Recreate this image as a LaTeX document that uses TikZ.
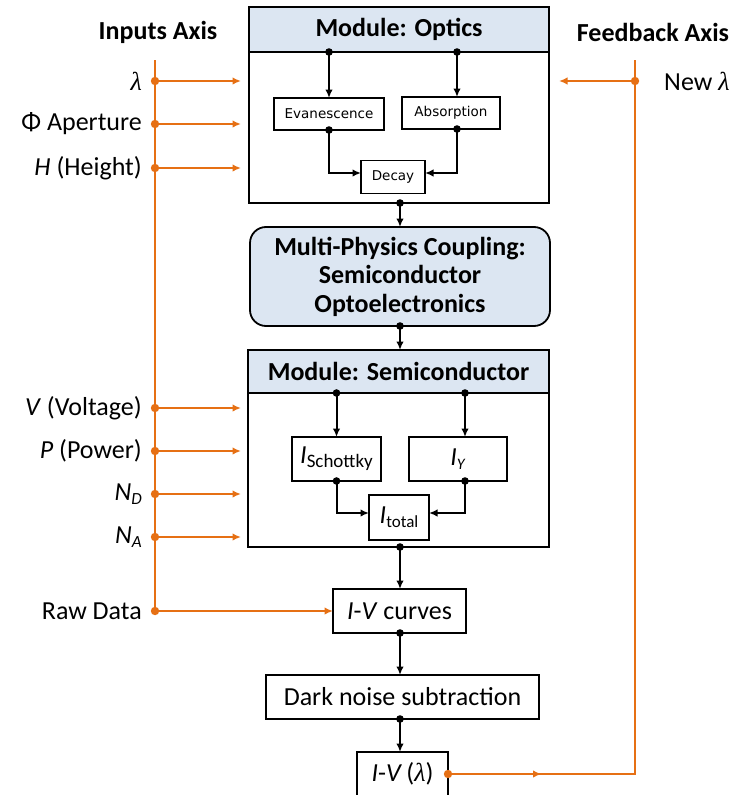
\documentclass[tikz,border=0pt]{standalone}
\usepackage{fontspec}
\setmainfont{Carlito}
\newfontfamily\smallfont{DejaVu Sans}
\newfontfamily\grkfont{Liberation Serif}
\usetikzlibrary{arrows.meta,calc}
\definecolor{hdr}{RGB}{220,230,242}
\definecolor{org}{RGB}{230,112,20}
\newcommand{\lsub}[2]{\raisebox{-0.35ex}{\fontsize{#1}{#1}\selectfont #2}}
\newcommand{\lam}{{\grkfont\itshape λ}}
\newcommand{\blackdot}[1]{\fill #1 circle (3.8);}
\newcommand{\orgdot}[1]{\fill[org] #1 circle (4.2);}
\begin{document}
\begin{tikzpicture}[x=1pt,y=-1pt,
  font=\fontsize{26}{28}\selectfont,
  box/.style={draw,line width=1.8pt,inner sep=0pt,outer sep=0pt,align=center},
  hbox/.style={box,fill=hdr,font=\fontsize{26}{28}\selectfont\bfseries},
  sbox/.style={box,font=\smallfont\fontsize{13.5}{15}\selectfont},
  blk/.style={line width=2pt,-{Latex[length=8.5pt,width=7.5pt]}},
  oln/.style={draw=org,line width=1.9pt},
  oarr/.style={oln,-{Latex[length=8.5pt,width=7.5pt]}},
  lbl/.style={anchor=east,inner sep=0pt},
  ttl/.style={inner sep=0pt,font=\fontsize{26}{28}\selectfont\bfseries},
  ]
\useasboundingbox (0,0) rectangle (733,795);
\fill[white] (0,0) rectangle (733,795);

% ---------- Optics module
\node[box,minimum width=300pt,minimum height=196pt] (optics) at (399,105) {};
\node[hbox,minimum width=300pt,minimum height=45pt,anchor=north] (opticsH) at (optics.north) {Module: Optics};
\node[sbox,minimum width=110pt,minimum height=32pt] (evan) at (329,114) {Evanescence};
\node[sbox,minimum width=98pt,minimum height=32pt] (absb) at (451,113) {Absorption};
\node[sbox,minimum width=64pt,minimum height=33pt] (decay) at (393,177) {Decay};
\coordinate (ax) at (457,0);
\draw[blk] (opticsH.south -| evan.north) -- (evan.north);
\draw[blk] (opticsH.south -| ax) -- (absb.north -| ax);
\draw[blk] (evan.south) |- ([yshift=4pt]decay.west);
\draw[blk] (absb.south -| ax) |- ([yshift=4pt]decay.east);
\blackdot{(opticsH.south -| evan.north)}
\blackdot{(opticsH.south -| ax)}
\blackdot{(evan.south)}
\blackdot{(absb.south -| ax)}

% ---------- Coupling
\node[box,fill=hdr,rounded corners=16pt,minimum width=300pt,minimum height=99pt,
      font=\fontsize{26}{28.5}\selectfont\bfseries] (coup) at (400,276.5)
      {Multi-Physics Coupling:\\Semiconductor\\Optoelectronics};

% ---------- Semiconductor module
\node[box,minimum width=301pt,minimum height=197pt] (semi) at (398.5,448.5) {};
\node[hbox,minimum width=301pt,minimum height=43pt,anchor=north] (semiH) at (semi.north) {Module: Semiconductor};
\node[box,minimum width=89pt,minimum height=44pt] (isch) at (336.5,459) {\textit{I}\lsub{19}{Schottky}};
\node[box,minimum width=98pt,minimum height=44pt] (iy) at (458,459) {\textit{I}\lsub{16}{\textit{Y}}};
\node[box,minimum width=60pt,minimum height=45pt] (itot) at (399,517.5) {\textit{I}\lsub{17}{total}};
\coordinate (sx) at (465,0);
\draw[blk] (semiH.south -| isch.north) -- (isch.north);
\draw[blk] (semiH.south -| sx) -- (iy.north -| sx);
\draw[blk] (isch.south) |- ([yshift=4.5pt]itot.west);
\draw[blk] (iy.south -| sx) |- ([yshift=4.5pt]itot.east);
\blackdot{(semiH.south -| isch.north)}
\blackdot{(semiH.south -| sx)}
\blackdot{(isch.south)}
\blackdot{(iy.south -| sx)}

% ---------- Processing chain
\node[box,minimum width=133pt,minimum height=44pt] (ivc) at (399.5,611) {\textit{I}-\textit{V} curves};
\node[box,minimum width=273pt,minimum height=44pt] (dark) at (402.5,697) {Dark noise subtraction};
\node[box,minimum width=91pt,minimum height=44pt] (ivl) at (402.5,774) {\textit{I}-\textit{V}\,(\lam)};

\coordinate (cx) at (400,0);
\draw[blk] (optics.south -| cx) -- (coup.north -| cx);
\draw[blk] (coup.south -| cx) -- (semi.north -| cx);
\draw[blk] (semi.south -| cx) -- (ivc.north -| cx);
\draw[blk] (ivc.south -| cx) -- (dark.north -| cx);
\draw[blk] (dark.south -| cx) -- (ivl.north -| cx);
\blackdot{(optics.south -| cx)}
\blackdot{(coup.south -| cx)}
\blackdot{(semi.south -| cx)}
\blackdot{(ivc.south -| cx)}
\blackdot{(dark.south -| cx)}

% ---------- Inputs axis
\node[ttl] (inAx) at (158,32) {Inputs Axis};
\coordinate (inTop) at (155,60);
\coordinate (inBot) at (155,611);
\draw[oln] (inTop) -- (inBot);
\foreach \n/\y/\t in {a/81/{\lam},b/124/{Φ Aperture},c/168/{\textit{H} (Height)},
    d/408/{\textit{V} (Voltage)},e/451/{\textit{P} (Power)},f/494/{\textit{N}\lsub{17}{\textit{D}}},
    g/537/{\textit{N}\lsub{17}{\textit{A}}}}{
  \node[lbl] (lab\n) at (142,\y) {\t};
  \coordinate (src\n) at (155,\y);
  \coordinate (dst\n) at (241,\y);
  \draw[oarr] (src\n) -- (dst\n);
  \orgdot{(src\n)}
}
\node[lbl] (labRaw) at (142,611) {Raw Data};
\draw[oarr] (inBot) -- (ivc.west);
\orgdot{(inBot)}

% ---------- Feedback axis
\node[ttl] (fbAx) at (653,32) {Feedback Axis};
\coordinate (fbTop) at (635,60);
\coordinate (fbL) at (635,81);
\coordinate (fbE) at (559,81);
\draw[oln] (ivl.east) -- (ivl.east -| fbTop) -- (fbTop);
\draw[oarr] (ivl.east) -- ($(ivl.east)!0.5!(ivl.east -| fbTop)$);
\orgdot{(ivl.east)}
\draw[oarr] (fbL) -- (fbE);
\orgdot{(fbL)}
\node[anchor=west,inner sep=0pt] (newlam) at (664,81) {New \lam};
\end{tikzpicture}
\end{document}
